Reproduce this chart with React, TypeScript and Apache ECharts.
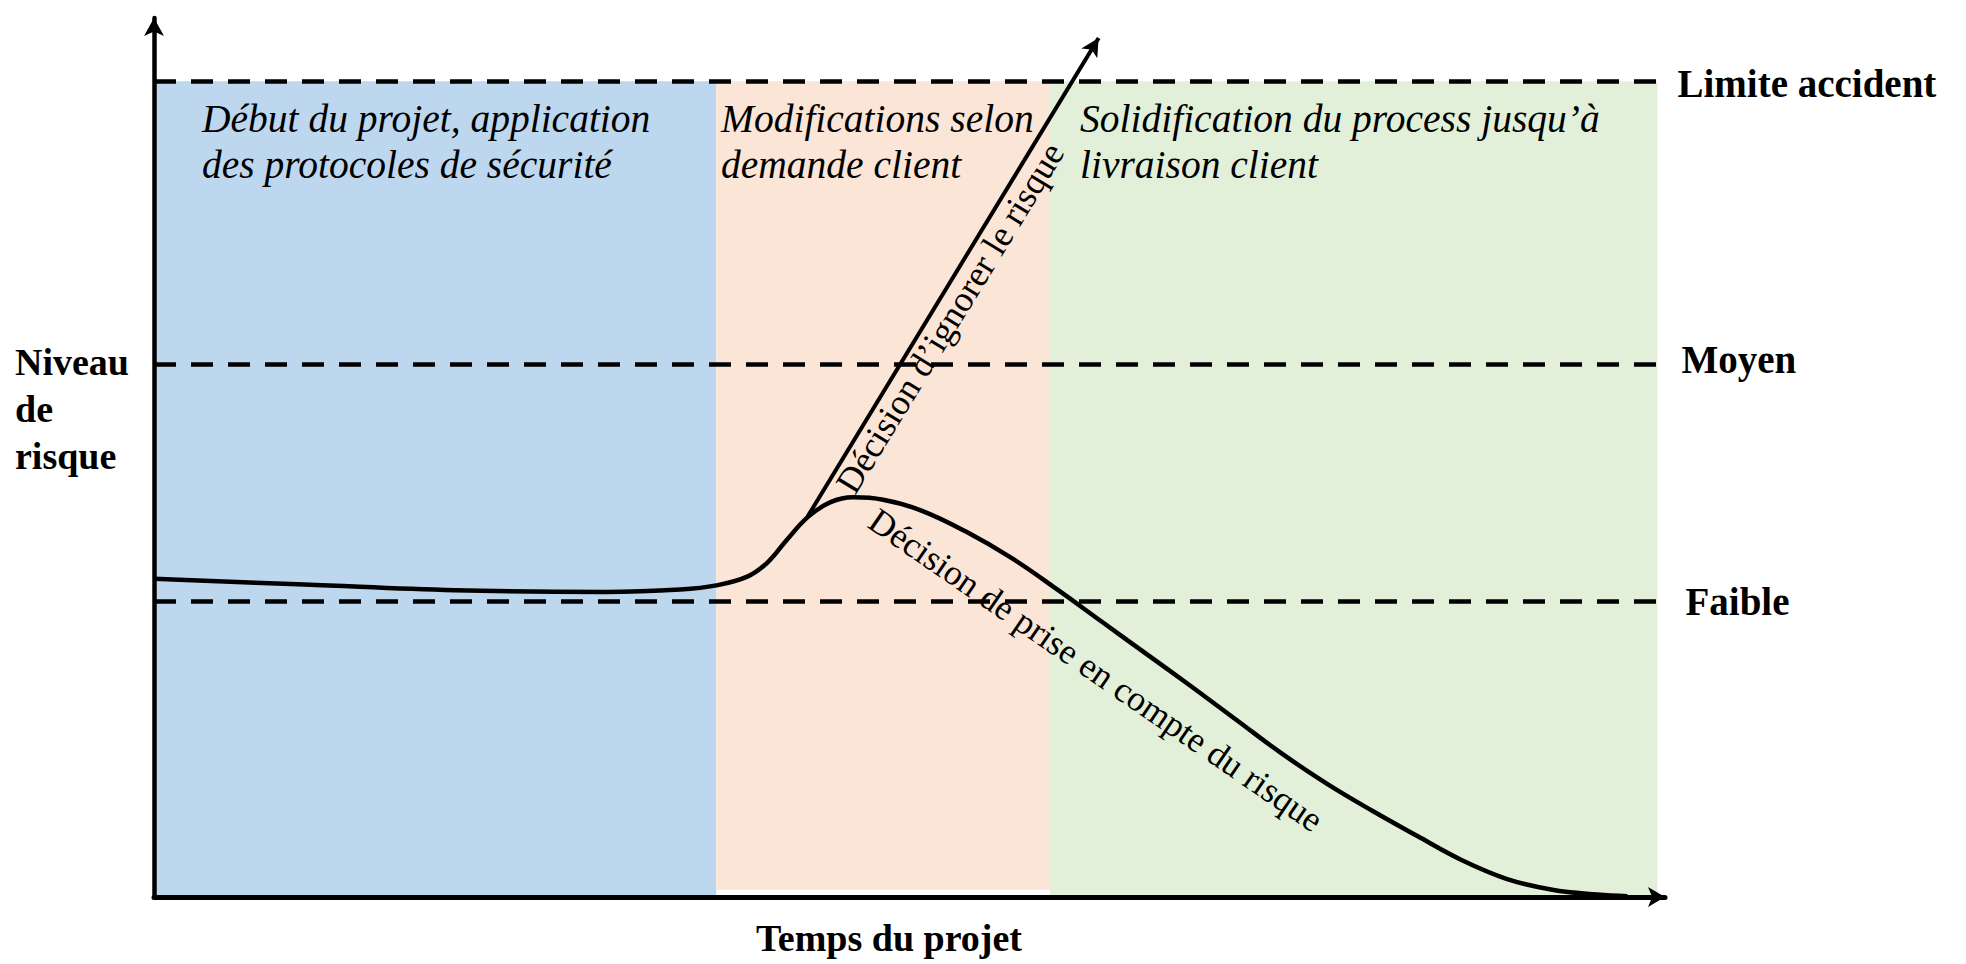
import React, { useEffect, useRef } from "react";
import * as echarts from "echarts";

// ---- Data (time 0..100, risk 0..100 where 100 = "Limite accident") ----
const curveTime = [0, 10, 20, 30, 35, 37.4, 39.5, 40.8, 42.1, 43.5, 45, 46.5, 48.5, 51, 54, 57, 60, 63, 66, 69, 72, 75, 78, 81, 84, 87, 90, 93, 96, 98];
const curveRisk = [39.0, 38.3, 37.6, 37.4, 37.7, 38.2, 39.3, 41.0, 43.8, 46.6, 48.4, 49.0, 48.7, 47.4, 44.8, 41.6, 37.8, 33.8, 29.8, 25.8, 21.7, 17.6, 13.9, 10.6, 7.5, 4.5, 2.2, 0.9, 0.3, 0.1];

const branchTime = [43.45, 62.83];
const branchRisk = [46.57, 105.3];

const phaseStart = [0, 37.4, 59.6];
const phaseEnd = [37.4, 59.6, 100];
const phaseBottom = [0, 0.9, 0];
const phaseTop = [100, 100, 100];
const phaseColors = ["#BDD7EE", "#FBE5D6", "#E2F0D9"];
const phaseTitles = [
  ["Début du projet, application", "des protocoles de sécurité"],
  ["Modifications selon", "demande client"],
  ["Solidification du process jusqu’à", "livraison client"],
];

const thresholdValues = [100, 65.3, 36.3];
const thresholdLabels = ["Limite accident", "Moyen", "Faible"];

const yAxisTitle = ["Niveau", "de", "risque"];
const xAxisTitle = "Temps du projet";
const branchLabel = "Décision d’ignorer le risque";
const curveLabel = "Décision de prise en compte du risque";

const SERIF = '"Liberation Serif", "Times New Roman", serif';

export default function App() {
  const ref = useRef<HTMLDivElement>(null);

  useEffect(() => {
    if (!ref.current) return;
    const chart = echarts.init(ref.current, null, { renderer: "svg" });

    const titleX = [202, 721, 1080];
    const titleY = [119, 165];
    const labelDist = [20, 24, 28];
    const labelOffset = [
      [0, 2],
      [0, -5],
      [0, 1],
    ];

    const graphics: any[] = [];
    phaseTitles.forEach((lines, i) => {
      lines.forEach((line, j) => {
        graphics.push({
          type: "text",
          x: titleX[i],
          y: titleY[j],
          style: {
            text: line,
            font: `italic 39.5px ${SERIF}`,
            fill: "#000",
            textAlign: "left",
            textVerticalAlign: "middle",
          },
          z: 20,
        });
      });
    });
    yAxisTitle.forEach((line, j) => {
      graphics.push({
        type: "text",
        x: 15,
        y: 362 + j * 47,
        style: {
          text: line,
          font: `bold 38px ${SERIF}`,
          fill: "#000",
          textAlign: "left",
          textVerticalAlign: "middle",
        },
      });
    });
    graphics.push({
      type: "text",
      x: 889,
      y: 938,
      style: {
        text: xAxisTitle,
        font: `bold 38px ${SERIF}`,
        fill: "#000",
        textAlign: "center",
        textVerticalAlign: "middle",
      },
    });
    graphics.push({
      type: "text",
      x: 950,
      y: 318,
      rotation: (58.5 * Math.PI) / 180,
      style: {
        text: branchLabel,
        font: `36px ${SERIF}`,
        fill: "#000",
        textAlign: "center",
        textVerticalAlign: "middle",
      },
      z: 20,
    });
    graphics.push({
      type: "text",
      x: 1096,
      y: 670,
      rotation: (-34.5 * Math.PI) / 180,
      style: {
        text: curveLabel,
        font: `35.5px ${SERIF}`,
        fill: "#000",
        textAlign: "center",
        textVerticalAlign: "middle",
      },
      z: 20,
    });

    const axisCommon = {
      type: "value" as const,
      axisTick: { show: false },
      axisLabel: { show: false },
      splitLine: { show: false },
      z: 10,
    };

    chart.setOption({
      animation: false,
      backgroundColor: "#ffffff",
      grid: { left: 154, right: 301, top: 18, bottom: 67 },
      xAxis: {
        ...axisCommon,
        min: 0,
        max: 100.5,
        axisLine: {
          show: true,
          onZero: false,
          symbol: ["none", "arrow"],
          symbolSize: [15, 17],
          lineStyle: { color: "#000", width: 5 },
        },
      },
      yAxis: {
        ...axisCommon,
        min: 0,
        max: 107.75,
        axisLine: {
          show: true,
          onZero: false,
          symbol: ["none", "arrow"],
          symbolSize: [15, 18],
          lineStyle: { color: "#000", width: 4.5 },
        },
      },
      graphic: graphics,
      series: [
        {
          type: "line",
          name: "phases",
          data: [],
          silent: true,
          z: 1,
          markArea: {
            silent: true,
            data: phaseStart.map((s, i) => [
              { xAxis: s, yAxis: phaseBottom[i], itemStyle: { color: phaseColors[i], opacity: 1 } },
              { xAxis: phaseEnd[i], yAxis: phaseTop[i] },
            ]),
          },
        },
        {
          type: "line",
          name: "seuils",
          data: [],
          silent: true,
          z: 3,
          markLine: {
            silent: true,
            symbol: ["none", "none"],
            lineStyle: { color: "#000", width: 4.5, type: [22, 15] },
            data: thresholdValues.map((v, i) => [
              {
                coord: [0, v],
                name: thresholdLabels[i],
                label: {
                  show: true,
                  position: "end",
                  distance: labelDist[i],
                  offset: labelOffset[i],
                  formatter: "{b}",
                  color: "#000",
                  fontFamily: SERIF,
                  fontWeight: "bold",
                  fontSize: 39,
                },
              },
              { coord: [100, v] },
            ]),
          },
        },
        {
          type: "line",
          name: "risque",
          data: curveTime.map((t, i) => [t, curveRisk[i]]),
          smooth: 0.4,
          symbol: "none",
          silent: true,
          z: 5,
          lineStyle: { color: "#000", width: 4.5 },
        },
        {
          type: "line",
          name: "ignorer",
          data: [],
          silent: true,
          z: 6,
          markLine: {
            silent: true,
            symbol: ["none", "arrow"],
            symbolSize: [14, 18],
            label: { show: false },
            lineStyle: { color: "#000", width: 4, type: "solid" },
            data: [
              [
                { coord: [branchTime[0], branchRisk[0]] },
                { coord: [branchTime[1], branchRisk[1]] },
              ],
            ],
          },
        },
      ],
    });

    return () => {
      chart.dispose();
    };
  }, []);

  return (
    <div
      ref={ref}
      style={{ position: "absolute", left: 0, top: 0, width: 1966, height: 964 }}
    />
  );
}
